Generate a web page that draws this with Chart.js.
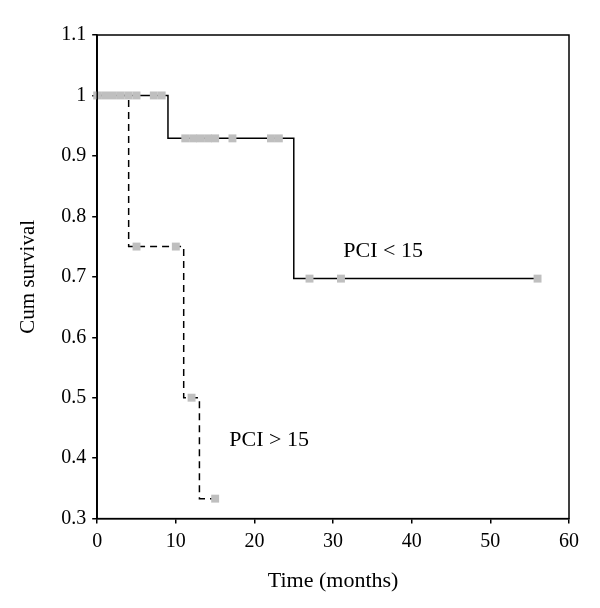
<!DOCTYPE html>
<html>
<head>
<meta charset="utf-8">
<script src="https://cdn.jsdelivr.net/npm/chart.js@4"></script>
<style>
  html, body { margin: 0; padding: 0; background: #fff; }
  #wrap { width: 600px; height: 608px; }
</style>
</head>
<body>
<div id="wrap"><canvas id="km"></canvas></div>
<script>
// Kaplan-Meier steps, PCI < 15 (solid)
const lowTimes = [0, 9, 25, 56];
const lowSurv = [1, 0.929, 0.697, 0.697];
// censored marks, PCI < 15
const lowCensTimes = [0, 1, 2, 3, 4, 5, 7.2, 8.2, 11.2, 12.2, 13.1, 14.1, 15, 17.2, 22.1, 23.1, 27, 31, 56];
const lowCensSurv = [1, 1, 1, 1, 1, 1, 1, 1, 0.929, 0.929, 0.929, 0.929, 0.929, 0.929, 0.929, 0.929, 0.697, 0.697, 0.697];

// Kaplan-Meier steps, PCI > 15 (dashed)
const highTimes = [0, 4, 11, 13, 15];
const highSurv = [1, 0.75, 0.5, 0.333, 0.333];
const highCensTimes = [5, 10, 12, 15];
const highCensSurv = [0.75, 0.75, 0.5, 0.333];

const xTicks = [0, 10, 20, 30, 40, 50, 60];
const yTicks = [0.3, 0.4, 0.5, 0.6, 0.7, 0.8, 0.9, 1, 1.1];

const labels = [
  { text: 'PCI < 15', x: 31.3, y: 0.743 },
  { text: 'PCI > 15', x: 16.8, y: 0.43 }
];

const FONT = '"Liberation Serif", "DejaVu Serif", serif';

function pts(xs, ys) {
  return xs.map((x, i) => ({ x: x, y: ys[i] }));
}

// frame around the plot + text labels
const framePlugin = {
  id: 'frame',
  afterDraw(chart) {
    const { ctx, chartArea: a, scales } = chart;
    ctx.save();
    ctx.strokeStyle = '#000';
    ctx.lineWidth = 1.5;
    ctx.strokeRect(a.left, a.top, a.right - a.left, a.bottom - a.top);
    ctx.fillStyle = '#000';
    ctx.font = '22px ' + FONT;
    ctx.textBaseline = 'middle';
    labels.forEach(l => {
      ctx.fillText(l.text, scales.x.getPixelForValue(l.x), scales.y.getPixelForValue(l.y));
    });
    ctx.restore();
  }
};

new Chart(document.getElementById('km'), {
  type: 'line',
  data: {
    datasets: [
      {
        label: 'PCI < 15 censored',
        type: 'scatter',
        data: pts(lowCensTimes, lowCensSurv),
        pointStyle: 'rect',
        pointRadius: 5.6,
        pointBackgroundColor: '#bfbfbf',
        pointBorderWidth: 0,
        clip: false,
        order: 0
      },
      {
        label: 'PCI > 15 censored',
        type: 'scatter',
        data: pts(highCensTimes, highCensSurv),
        pointStyle: 'rect',
        pointRadius: 5.6,
        pointBackgroundColor: '#bfbfbf',
        pointBorderWidth: 0,
        clip: false,
        order: 1
      },
      {
        label: 'PCI < 15',
        data: pts(lowTimes, lowSurv),
        stepped: 'before',
        borderColor: '#000',
        borderWidth: 1.5,
        pointRadius: 0,
        fill: false,
        order: 2
      },
      {
        label: 'PCI > 15',
        data: pts(highTimes, highSurv),
        stepped: 'before',
        borderColor: '#000',
        borderWidth: 1.5,
        borderDash: [7, 5],
        pointRadius: 0,
        fill: false,
        order: 3
      }
    ]
  },
  options: {
    responsive: true,
    maintainAspectRatio: false,
    animation: false,
    layout: { padding: { top: 35, right: 31, left: 12, bottom: 10 } },
    plugins: {
      legend: { display: false },
      tooltip: { enabled: false }
    },
    scales: {
      x: {
        type: 'linear',
        min: 0,
        max: 60,
        afterBuildTicks: s => { s.ticks = xTicks.map(v => ({ value: v })); },
        ticks: { color: '#000', font: { family: FONT, size: 20 }, padding: 6, maxRotation: 0 },
        grid: { drawOnChartArea: false, tickLength: 5, color: '#000', lineWidth: 1.5 },
        border: { color: '#000', width: 1.5 },
        title: { display: true, text: 'Time (months)', color: '#000', font: { family: FONT, size: 22 }, padding: { top: 8 } }
      },
      y: {
        min: 0.3,
        max: 1.1,
        afterBuildTicks: s => { s.ticks = yTicks.map(v => ({ value: v })); },
        ticks: {
          color: '#000',
          font: { family: FONT, size: 20 },
          padding: 6,
          callback: v => String(Math.round(v * 10) / 10)
        },
        grid: { drawOnChartArea: false, tickLength: 5, color: '#000', lineWidth: 1.5 },
        border: { color: '#000', width: 1.5 },
        title: { display: true, text: 'Cum survival', color: '#000', font: { family: FONT, size: 21 }, padding: { bottom: 14 } }
      }
    }
  },
  plugins: [framePlugin]
});
</script>
</body>
</html>
